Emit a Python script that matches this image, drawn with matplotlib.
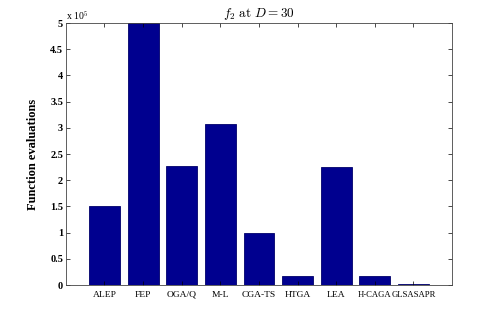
import matplotlib
matplotlib.use('Agg')
import matplotlib.pyplot as plt
from matplotlib.ticker import FuncFormatter

methods = ['ALEP', 'FEP', 'OGA/Q', 'M-L', 'CGA-TS', 'HTGA', 'LEA', 'H-CAGA', 'GLSASAPR']
evals = [150000, 500000, 226500, 307000, 100000, 17000, 225000, 17000, 1500]

plt.rcParams['font.family'] = ['Liberation Serif', 'DejaVu Serif']
plt.rcParams['mathtext.fontset'] = 'cm'

fig = plt.figure(figsize=(4.99, 3.2), dpi=100)
ax = fig.add_axes([0.132, 0.109, 0.774, 0.819])

x = list(range(1, len(methods) + 1))
ax.bar(x, evals, width=0.8, color='#00008F', edgecolor='#00006A', linewidth=0.6)

ax.set_xlim(0, 10)
ax.set_ylim(0, 500000)
ax.set_xticks(x)
ax.set_xticklabels(methods, fontsize=6.8)
ax.set_yticks([i * 50000 for i in range(11)])
ax.yaxis.set_major_formatter(FuncFormatter(lambda v, p: '%g' % (v / 1e5)))
for lab in ax.get_yticklabels():
    lab.set_fontweight('bold')
    lab.set_fontsize(7.5)
# last two labels nearly touch
xl = ax.get_xticklabels()
xl[-2].set_fontsize(6.2)
xl[-1].set_fontsize(6.2)

ax.tick_params(direction='in', top=True, right=True, length=3, width=0.5, pad=2)
ax.tick_params(axis='x', pad=4)
for s in ax.spines.values():
    s.set_linewidth(0.6)
    s.set_color('#444444')

ax.text(0.0, 1.005, r'x 10$^5$', transform=ax.transAxes, fontsize=7, va='bottom', ha='left')
ax.set_ylabel('Function evaluations', fontsize=9, fontweight='bold', labelpad=8)
ax.set_title(r'$f_2\ \mathrm{at}\ D = 30$', fontsize=9.5, pad=4)

fig.savefig('out.png', dpi=100)
